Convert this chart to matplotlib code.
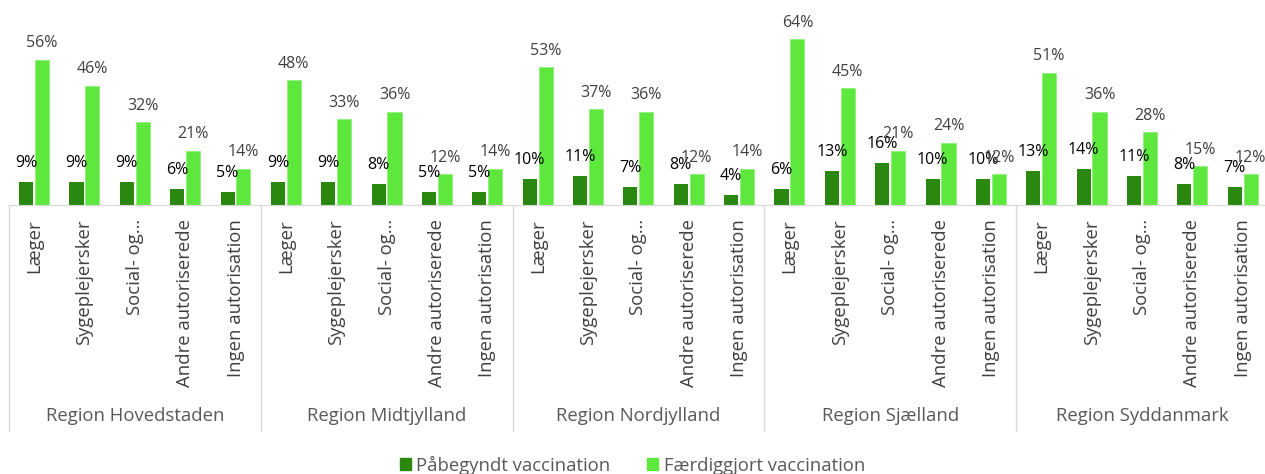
import matplotlib.pyplot as plt
from matplotlib.patches import Patch
from matplotlib.transforms import blended_transform_factory
import numpy as np

plt.rcParams['font.family'] = ['Open Sans', 'DejaVu Sans']

regions = ['Region Hovedstaden', 'Region Midtjylland', 'Region Nordjylland',
           'Region Sjælland', 'Region Syddanmark']
categories = ['Læger', 'Sygeplejersker', 'Social- og…',
              'Andre autoriserede', 'Ingen autorisation']

# percent, one row of five per region
started = [9, 9, 9, 6, 5,
           9, 9, 8, 5, 5,
           10, 11, 7, 8, 4,
           6, 13, 16, 10, 10,
           13, 14, 11, 8, 7]
completed = [56, 46, 32, 21, 14,
             48, 33, 36, 12, 14,
             53, 37, 36, 12, 14,
             64, 45, 21, 24, 12,
             51, 36, 28, 15, 12]

DARK = '#2a870f'
LIGHT = '#5ee83d'
GRID = '#d9d9d9'
FS_VAL = 11.5   # bar labels
FS_AX = 13.3    # axis + legend text

W, H = 1265, 474
fig = plt.figure(figsize=(W / 100, H / 100), dpi=100)
ax = fig.add_axes([9 / W, (H - 205) / H, 1259 / W, 205 / H])

x = np.arange(len(started))
bw = 0.28
ax.bar(x - 0.16, started, bw, color=DARK)
ax.bar(x + 0.155, completed, bw, color=LIGHT, edgecolor='#8ff07a', linewidth=0.6)

for xi, v in zip(x, started):
    ax.annotate(f'{v}%', (xi - 0.16, v), xytext=(0, 8), textcoords='offset points',
                ha='center', va='bottom', fontsize=FS_VAL, color='black')
for xi, v in zip(x, completed):
    ax.annotate(f'{v}%', (xi + 0.155, v), xytext=(0, 6), textcoords='offset points',
                ha='center', va='bottom', fontsize=FS_VAL, color='#404040',
                annotation_clip=False)

ax.set_xlim(-0.5, len(x) - 0.5)
ax.set_ylim(0, 79)
ax.set_yticks([])
ax.set_xticks([])
for s in ['top', 'right', 'left']:
    ax.spines[s].set_visible(False)
ax.spines['bottom'].set_color(GRID)

trans = blended_transform_factory(ax.transData, ax.transAxes)
# category labels
for i in range(len(x)):
    ax.text(i, -0.07, categories[i % 5], rotation=90, ha='center', va='top',
            fontsize=FS_AX, color='#404040', transform=trans)
# region separators and names
for r in range(len(regions) + 1):
    ax.plot([r * 5 - 0.5] * 2, [0, -1.1], color=GRID, lw=1,
            transform=trans, clip_on=False)
for r, name in enumerate(regions):
    ax.text(r * 5 + 2, -1.03, name, ha='center', va='center',
            fontsize=FS_AX, color='#595959', transform=trans)

handles = [Patch(color=DARK), Patch(color=LIGHT)]
fig.legend(handles, ['Påbegyndt vaccination', 'Færdiggjort vaccination'],
           loc='center', bbox_to_anchor=(0.5, 1 - 465 / H), ncol=2,
           frameon=False, fontsize=FS_AX, handlelength=0.6, handleheight=0.6,
           handletextpad=0.3, columnspacing=2.0, labelcolor='#595959')

fig.savefig('out.png', dpi=100)
